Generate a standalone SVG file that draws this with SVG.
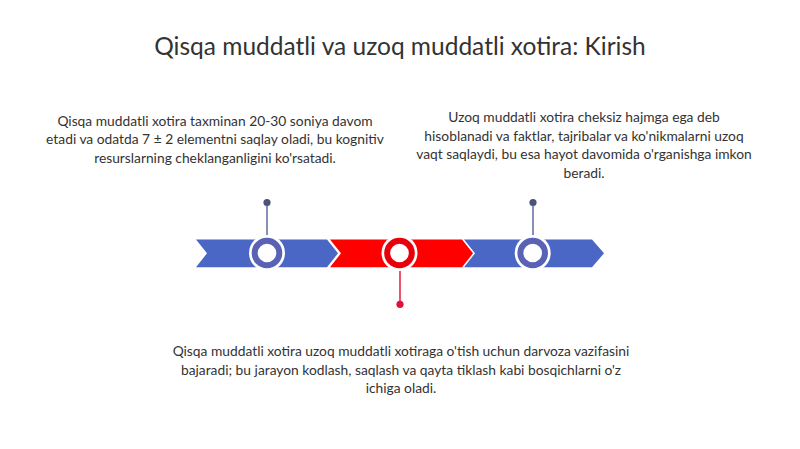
<svg xmlns="http://www.w3.org/2000/svg" width="800" height="449" viewBox="0 0 800 449">
<style>
.t{font-family:Lato,"Open Sans","Liberation Sans",sans-serif;fill:#333;text-anchor:middle}
.title{font-size:24.5px}
.body{font-size:13.8px}
.blue{fill:#4a67c5}
.red{fill:#ff0000}
.ringb{fill:#fff;stroke:#5a62b6;stroke-width:6}
.ringr{fill:#fff;stroke:#e8000b;stroke-width:6}
.halo{fill:#fff}
</style>
<rect width="800" height="449" fill="#fff"/>
<text class="t title" x="400" y="55">Qisqa muddatli va uzoq muddatli xotira: Kirish</text>
<g id="connectors">
<line x1="267" y1="203" x2="267" y2="237" stroke="#6a72a8" stroke-width="1.6"/>
<circle cx="267" cy="202.5" r="3.6" fill="#4b5474"/>
<line x1="533" y1="203" x2="533" y2="237" stroke="#6a72a8" stroke-width="1.6"/>
<circle cx="533" cy="202.5" r="3.6" fill="#4b5474"/>
<line x1="400" y1="269" x2="400" y2="304" stroke="#e8274a" stroke-width="1.6"/>
<circle cx="400" cy="304.3" r="3.6" fill="#e0103c"/>
</g>
<g id="bar1"><polygon class="blue" points="196,239.5 327,239.5 338,253.3 327,267.2 196,267.2 207,253.3"/></g>
<g id="bar2"><polygon class="red" points="330,239.5 462,239.5 473,253.3 462,267.2 330,267.2 341,253.3"/></g>
<g id="bar3"><polygon class="blue" points="464,239.5 592,239.5 604,253.3 592,267.2 464,267.2 475,253.3"/></g>
<g id="node1"><circle class="halo" cx="267" cy="253" r="18"/><circle class="ringb" cx="267" cy="253" r="12.3"/></g>
<g id="node2"><circle class="halo" cx="399.5" cy="253" r="18"/><circle class="ringr" cx="399.5" cy="253" r="12.3"/></g>
<g id="node3"><circle class="halo" cx="532.7" cy="253" r="18"/><circle class="ringb" cx="532.7" cy="253" r="12.3"/></g>
<g id="text1">
<text class="t body" x="215" y="125.5">Qisqa muddatli xotira taxminan 20-30 soniya davom</text>
<text class="t body" x="215" y="144">etadi va odatda 7 ± 2 elementni saqlay oladi, bu kognitiv</text>
<text class="t body" x="215" y="162.5">resurslarning cheklanganligini ko'rsatadi.</text>
</g>
<g id="text2">
<text class="t body" x="584" y="122">Uzoq muddatli xotira cheksiz hajmga ega deb</text>
<text class="t body" x="584" y="140.5">hisoblanadi va faktlar, tajribalar va ko'nikmalarni uzoq</text>
<text class="t body" x="584" y="159">vaqt saqlaydi, bu esa hayot davomida o'rganishga imkon</text>
<text class="t body" x="584" y="177.5">beradi.</text>
</g>
<g id="text3">
<text class="t body" x="401" y="356">Qisqa muddatli xotira uzoq muddatli xotiraga o'tish uchun darvoza vazifasini</text>
<text class="t body" x="401" y="374.5">bajaradi; bu jarayon kodlash, saqlash va qayta tiklash kabi bosqichlarni o'z</text>
<text class="t body" x="401" y="393">ichiga oladi.</text>
</g>
</svg>
